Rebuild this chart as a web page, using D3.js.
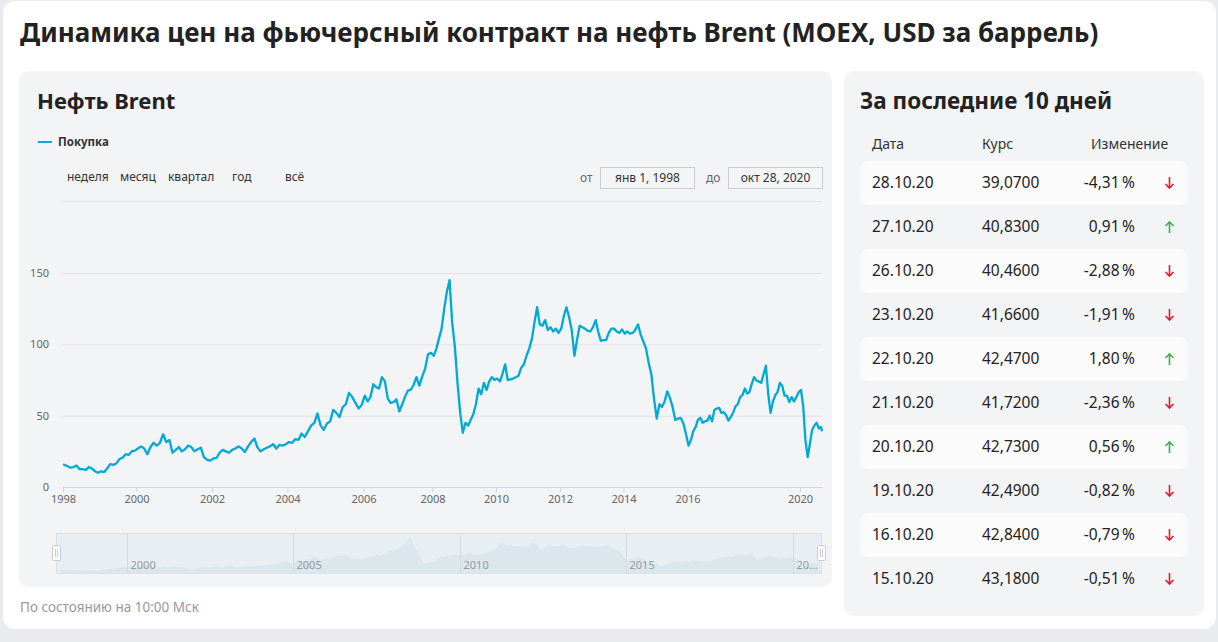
<!DOCTYPE html>
<html lang="ru">
<head>
<meta charset="utf-8">
<script src="https://cdn.jsdelivr.net/npm/d3@7"></script>
<style>
  body { margin: 0; background: #e9ebee; }
  svg { display: block; font-family: "Noto Sans", "Open Sans", sans-serif; }
</style>
</head>
<body>
<div id="page"></div>
<script>
// Brent, USD per barrel, one value per month from Jan 1998
var startYear = 1998;
var monthlyBrent = [
  16.0, 14.5, 13.5, 14.0, 15.0, 12.5, 12.5, 12.0, 14.0, 13.0, 11.0, 10.0,   // 1998
  11.0, 10.5, 13.0, 16.0, 15.5, 16.5, 19.5, 20.5, 23.0, 22.5, 25.0, 25.5,   // 1999
  27.0, 28.5, 27.0, 23.0, 28.0, 31.0, 29.0, 31.0, 37.0, 31.5, 33.0, 24.0,   // 2000
  26.0, 28.0, 25.0, 26.5, 29.0, 28.0, 25.0, 26.5, 27.5, 21.0, 19.0, 18.5,   // 2001
  20.0, 20.5, 24.0, 26.0, 25.0, 24.0, 26.0, 27.0, 28.5, 27.0, 24.5, 28.5,   // 2002
  31.5, 34.0, 28.0, 25.0, 26.5, 27.5, 28.5, 30.0, 27.0, 29.5, 29.0, 30.0,   // 2003
  31.5, 31.0, 33.5, 33.0, 37.5, 35.0, 39.0, 43.0, 45.0, 51.5, 43.0, 40.0,   // 2004
  44.5, 46.0, 54.0, 52.0, 49.0, 56.0, 58.0, 66.0, 63.0, 59.0, 55.0, 57.5,   // 2005
  64.0, 60.0, 63.0, 72.0, 70.0, 69.0, 77.0, 74.0, 62.0, 59.0, 59.5, 61.5,   // 2006
  53.0, 58.0, 63.0, 67.5, 68.0, 71.5, 77.0, 71.0, 77.5, 83.0, 93.0, 94.0,   // 2007
  92.0, 97.0, 104.0, 111.0, 125.0, 137.0, 145.0, 115.0, 98.0, 73.0, 52.0, 38.0, // 2008
  45.0, 43.0, 47.0, 51.0, 58.0, 69.0, 65.0, 73.0, 68.0, 74.0, 77.0, 75.0,   // 2009
  76.0, 74.0, 79.0, 86.0, 75.0, 75.5, 76.0, 77.0, 78.0, 83.5, 86.0, 92.0,   // 2010
  97.0, 104.0, 115.0, 126.0, 114.0, 113.0, 117.0, 110.0, 112.0, 109.0, 111.0, 108.0, // 2011
  111.0, 120.0, 126.0, 119.0, 110.0, 92.0, 103.0, 113.0, 112.0, 111.0, 109.5, 109.0, // 2012
  112.0, 117.0, 109.0, 102.5, 103.0, 103.0, 108.0, 111.0, 111.0, 109.0, 108.0, 110.5, // 2013
  107.5, 109.0, 107.5, 108.0, 110.0, 114.0, 107.0, 102.0, 97.0, 87.0, 79.0, 62.0, // 2014
  48.0, 58.0, 56.0, 60.0, 67.0, 62.5, 56.0, 47.0, 48.0, 48.5, 44.5, 37.0,   // 2015
  29.0, 33.0, 39.0, 42.0, 47.0, 48.5, 45.0, 46.0, 46.5, 50.0, 46.0, 54.0,   // 2016
  55.0, 55.5, 52.0, 52.5, 50.5, 46.5, 49.0, 52.0, 56.5, 58.0, 63.0, 64.5,   // 2017
  69.0, 65.5, 66.5, 72.5, 77.0, 74.5, 74.0, 73.0, 79.0, 85.0, 65.0, 52.0,   // 2018
  60.0, 64.5, 66.5, 73.0, 71.0, 64.0, 64.0, 59.5, 63.0, 60.0, 63.0, 66.5,   // 2019
  68.0, 56.0, 33.0, 21.0, 30.0, 40.0, 43.0, 45.0, 41.0, 42.0                // 2020
];
var lastDay = "2020-10-28";
var firstDay = "1998-01-01";

var yTicks = [0, 50, 100, 150];
var xTickYears = [1998, 2000, 2002, 2004, 2006, 2008, 2010, 2012, 2014, 2016, 2020];
var navTickYears = [2000, 2005, 2010, 2015, 2020];
var rangeButtons = ["неделя", "месяц", "квартал", "год", "всё"];

var tableDates = ["28.10.20", "27.10.20", "26.10.20", "23.10.20", "22.10.20",
                  "21.10.20", "20.10.20", "19.10.20", "16.10.20", "15.10.20"];
var tableRates = [39.07, 40.83, 40.46, 41.66, 42.47, 41.72, 42.73, 42.49, 42.84, 43.18];
var tableChanges = [-4.31, 0.91, -2.88, -1.91, 1.80, -2.36, 0.56, -0.82, -0.79, -0.51];

var W = 1218, H = 642;
var lineColor = "#00aad2";
var parseDay = d3.timeParse("%Y-%m-%d");

// monthly points, then the last close from the table
var series = monthlyBrent.map(function (v, i) {
  return { date: i === 0 ? parseDay(firstDay) : new Date(startYear, i, 15), value: v };
});
series.push({ date: parseDay(lastDay), value: tableRates[0] });

var svg = d3.select("#page").append("svg")
  .attr("width", W)
  .attr("height", H);

// white card
svg.append("rect")
  .attr("x", 3).attr("y", 1)
  .attr("width", 1213).attr("height", 628)
  .attr("rx", 12)
  .attr("fill", "#ffffff");

svg.append("text")
  .attr("x", 20).attr("y", 42)
  .attr("font-size", 26)
  .attr("font-weight", 700)
  .attr("fill", "#222")
  .text("Динамика цен на фьючерсный контракт на нефть Brent (MOEX, USD за баррель)");

// ---------- left panel ----------
svg.append("rect")
  .attr("x", 19).attr("y", 71)
  .attr("width", 813).attr("height", 516)
  .attr("rx", 10)
  .attr("fill", "#f3f4f6");

svg.append("text")
  .attr("x", 37).attr("y", 109)
  .attr("font-size", 22)
  .attr("font-weight", 700)
  .attr("fill", "#222")
  .text("Нефть Brent");

// legend
svg.append("line")
  .attr("x1", 38).attr("x2", 52)
  .attr("y1", 142).attr("y2", 142)
  .attr("stroke", lineColor)
  .attr("stroke-width", 2);
svg.append("text")
  .attr("x", 58).attr("y", 146)
  .attr("font-size", 11.5)
  .attr("font-weight", 700)
  .attr("fill", "#333")
  .text("Покупка");

// range selector buttons
var buttonX = [67, 120, 168, 232, 285];
svg.selectAll(".range-btn")
  .data(rangeButtons)
  .enter()
  .append("text")
  .attr("class", "range-btn")
  .attr("x", function (d, i) { return buttonX[i]; })
  .attr("y", 181)
  .attr("font-size", 12)
  .attr("fill", "#333")
  .text(function (d) { return d; });

// date inputs
var fmtInput = function (dateStr) {
  var months = ["янв", "фев", "мар", "апр", "май", "июн", "июл", "авг", "сен", "окт", "ноя", "дек"];
  var d = parseDay(dateStr);
  return months[d.getMonth()] + " " + d.getDate() + ", " + d.getFullYear();
};
var inputs = [
  { label: "от", lx: 580, bx: 600, text: fmtInput(firstDay) },
  { label: "до", lx: 706, bx: 728, text: fmtInput(lastDay) }
];
inputs.forEach(function (inp) {
  svg.append("text")
    .attr("x", inp.lx).attr("y", 182)
    .attr("font-size", 12)
    .attr("fill", "#666")
    .text(inp.label);
  svg.append("rect")
    .attr("x", inp.bx + 0.5).attr("y", 167.5)
    .attr("width", 94).attr("height", 21)
    .attr("fill", "#f4f5f7")
    .attr("stroke", "#cccccc");
  svg.append("text")
    .attr("x", inp.bx + 47.5).attr("y", 182)
    .attr("text-anchor", "middle")
    .attr("font-size", 12)
    .attr("fill", "#333")
    .text(inp.text);
});

svg.append("line")
  .attr("x1", 63).attr("x2", 822)
  .attr("y1", 201.5).attr("y2", 201.5)
  .attr("stroke", "#e3e5e8");

// scales: the x axis is ordinal-like (years after 2006 are squeezed), so it is piecewise
var xBreaks = xTickYears.map(function (y) { return new Date(y, 0, 1); }).concat([parseDay(lastDay)]);
var x = d3.scaleTime()
  .domain(xBreaks)
  .range([63, 136.5, 212, 287.5, 363.5, 432.5, 496, 560, 623.5, 687.5, 800, 822]);
var y = d3.scaleLinear()
  .domain([0, 150])
  .range([487, 273]);

// grid + y labels
var yAxis = svg.append("g")
  .attr("transform", "translate(63,0)")
  .call(d3.axisLeft(y).tickValues(yTicks).tickSize(-(822 - 63)).tickPadding(14));
yAxis.select(".domain").remove();
yAxis.selectAll(".tick line").attr("stroke", "#e1e3e7");
yAxis.selectAll(".tick text")
  .attr("font-family", "\"Noto Sans\", sans-serif")
  .attr("font-size", 11)
  .attr("fill", "#666");

// x axis
var xAxis = svg.append("g")
  .attr("transform", "translate(0,487)")
  .call(d3.axisBottom(x)
    .tickValues(xTickYears.map(function (y) { return new Date(y, 0, 1); }))
    .tickFormat(d3.timeFormat("%Y"))
    .tickSize(5)
    .tickPadding(3)
    .tickSizeOuter(0));
xAxis.select(".domain").attr("stroke", "#ccd6eb").attr("d", "M63,0.5H822");
xAxis.selectAll(".tick line").attr("stroke", "#ccd6eb");
xAxis.selectAll(".tick text")
  .attr("font-family", "\"Noto Sans\", sans-serif")
  .attr("font-size", 11)
  .attr("fill", "#666");

// price line
var line = d3.line()
  .x(function (d) { return x(d.date); })
  .y(function (d) { return y(d.value); });
svg.append("path")
  .datum(series)
  .attr("d", line)
  .attr("fill", "none")
  .attr("stroke", lineColor)
  .attr("stroke-width", 2.3)
  .attr("stroke-linejoin", "round");

// ---------- navigator ----------
var navTop = 533.5, navBottom = 573.5;
var navX = d3.scaleTime()
  .domain([parseDay(firstDay), parseDay(lastDay)])
  .range([60, 820]);
var navY = d3.scaleLinear()
  .domain([0, d3.max(series, function (d) { return d.value; })])
  .range([navBottom, navTop + 4]);

svg.append("rect")
  .attr("x", 56.5).attr("y", navTop)
  .attr("width", 765).attr("height", navBottom - navTop)
  .attr("fill", "#e7eff5")
  .attr("stroke", "#dcdfe2");

var navArea = d3.area()
  .x(function (d) { return navX(d.date); })
  .y0(navBottom)
  .y1(function (d) { return navY(d.value); });
svg.append("path")
  .datum(series)
  .attr("d", navArea)
  .attr("fill", "#dbe6ed")
  .attr("stroke", "none");

var navTicks = svg.append("g");
navTickYears.forEach(function (yr) {
  var px = Math.round(navX(new Date(yr, 0, 1))) + 0.5;
  navTicks.append("line")
    .attr("x1", px).attr("x2", px)
    .attr("y1", navTop).attr("y2", navBottom)
    .attr("stroke", "#d6dbe0");
  var t = navTicks.append("text")
    .attr("x", px + 3).attr("y", 569)
    .attr("font-size", 11)
    .attr("fill", "#999")
    .text(String(yr));
  // shorten a label that runs past the navigator edge
  if (px + 3 + t.node().getComputedTextLength() > 821) {
    t.text(String(yr).slice(0, 2) + "…");
  }
});

[56.5, 821.5].forEach(function (hx) {
  svg.append("rect")
    .attr("x", hx - 4).attr("y", 545.5)
    .attr("width", 8).attr("height", 15)
    .attr("rx", 1)
    .attr("fill", "#ffffff")
    .attr("stroke", "#cccccc");
  [-1, 1].forEach(function (o) {
    svg.append("line")
      .attr("x1", hx + o).attr("x2", hx + o)
      .attr("y1", 549).attr("y2", 557)
      .attr("stroke", "#cccccc");
  });
});

svg.append("text")
  .attr("x", 20).attr("y", 612)
  .attr("font-size", 13.5)
  .attr("fill", "#999")
  .text("По состоянию на 10:00 Мск");

// ---------- right panel ----------
svg.append("rect")
  .attr("x", 844).attr("y", 71)
  .attr("width", 360).attr("height", 545)
  .attr("rx", 10)
  .attr("fill", "#f3f4f6");

svg.append("text")
  .attr("x", 860).attr("y", 109)
  .attr("font-size", 22.5)
  .attr("font-weight", 700)
  .attr("fill", "#222")
  .text("За последние 10 дней");

var headers = [
  { text: "Дата", x: 872 },
  { text: "Курс", x: 982 },
  { text: "Изменение", x: 1091 }
];
svg.selectAll(".hdr")
  .data(headers)
  .enter()
  .append("text")
  .attr("class", "hdr")
  .attr("x", function (d) { return d.x; })
  .attr("y", 149)
  .attr("font-size", 14)
  .attr("fill", "#333")
  .text(function (d) { return d.text; });

var fmtRate = function (v) { return v.toFixed(4).replace(".", ","); };
var fmtChange = function (v) { return v.toFixed(2).replace(".", ",") + "\u2009%"; };

var rowY = d3.scaleBand()
  .domain(d3.range(tableDates.length))
  .range([161, 161 + 44 * tableDates.length]);

var rows = svg.selectAll(".row")
  .data(tableDates)
  .enter()
  .append("g")
  .attr("class", "row")
  .attr("transform", function (d, i) { return "translate(0," + rowY(i) + ")"; });

rows.filter(function (d, i) { return i % 2 === 0; })
  .append("rect")
  .attr("x", 860).attr("y", 0)
  .attr("width", 328).attr("height", 44)
  .attr("rx", 9)
  .attr("fill", "#fbfbfc");

rows.append("text")
  .attr("x", 872).attr("y", 27)
  .attr("font-size", 15.5)
  .attr("fill", "#222")
  .text(function (d) { return d; });

rows.append("text")
  .attr("x", 982).attr("y", 27)
  .attr("font-size", 15.5)
  .attr("fill", "#222")
  .text(function (d, i) { return fmtRate(tableRates[i]); });

rows.append("text")
  .attr("x", 1135).attr("y", 27)
  .attr("text-anchor", "end")
  .attr("font-size", 15.5)
  .attr("fill", "#222")
  .text(function (d, i) { return fmtChange(tableChanges[i]); });

// arrows
rows.append("path")
  .attr("d", function (d, i) {
    var cx = 1169.5, cy = 22;
    return tableChanges[i] < 0
      ? "M" + cx + "," + (cy - 6) + "V" + (cy + 5) + "M" + (cx - 4) + "," + (cy + 1) + "L" + cx + "," + (cy + 5) + "L" + (cx + 4) + "," + (cy + 1)
      : "M" + cx + "," + (cy + 6) + "V" + (cy - 5) + "M" + (cx - 4) + "," + (cy - 1) + "L" + cx + "," + (cy - 5) + "L" + (cx + 4) + "," + (cy - 1);
  })
  .attr("fill", "none")
  .attr("stroke", function (d, i) { return tableChanges[i] < 0 ? "#e0202a" : "#3fb04b"; })
  .attr("stroke-width", 1.6);
</script>
</body>
</html>
